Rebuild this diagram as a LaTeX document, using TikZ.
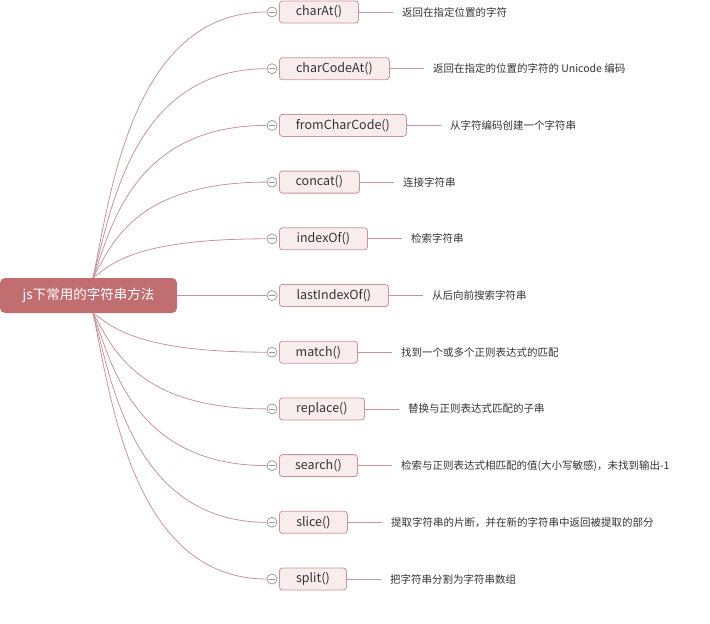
\documentclass[tikz,border=0pt]{standalone}
\usepackage{fontspec}
\setmainfont{Noto Sans CJK SC}
\usetikzlibrary{calc}
\definecolor{rootc}{RGB}{193,110,112}
\definecolor{boxfill}{RGB}{249,236,236}
\definecolor{boxline}{RGB}{200,150,152}
\definecolor{linkc}{RGB}{196,150,152}
\definecolor{txt}{RGB}{51,51,51}
\definecolor{circc}{RGB}{150,150,150}
\begin{document}
\begin{tikzpicture}[x=1pt,y=-1pt,
  rootbox/.style={fill=rootc, rounded corners=5pt, minimum width=177pt, minimum height=35pt, text=white, font=\fontsize{13.5}{16}\selectfont, inner sep=0},
  itembox/.style={draw=boxline, fill=boxfill, rounded corners=3pt, minimum height=22pt, inner sep=0, anchor=west, text=txt, font=\fontsize{12.5}{15}\selectfont, line width=0.8pt},
  collapse/.style={circle, draw=circc, fill=white, minimum size=10pt, inner sep=0, line width=0.7pt},
  desc/.style={anchor=west, inner sep=0, text=txt, font=\fontsize{10.5}{13}\selectfont},
  link/.style={draw=linkc, line width=0.8pt},
  minus/.style={draw=circc, line width=0.7pt}
]
\useasboundingbox (0,0) rectangle (710,624);
\node[rootbox] (root) at (88.5,295.5) {js下常用的字符串方法};
\foreach \i/\nm/\w/\d in {
  0/{charAt()}/79/{返回在指定位置的字符},
  1/{charCodeAt()}/110/{返回在指定的位置的字符的 Unicode 编码},
  2/{fromCharCode()}/127/{从字符编码创建一个字符串},
  3/{concat()}/80/{连接字符串},
  4/{indexOf()}/88/{检索字符串},
  5/{lastIndexOf()}/109/{从后向前搜索字符串},
  6/{match()}/78/{找到一个或多个正则表达式的匹配},
  7/{replace()}/85/{替换与正则表达式匹配的子串},
  8/{search()}/78/{检索与正则表达式相匹配的值(大小写敏感)，未找到输出-1},
  9/{slice()}/68/{提取字符串的片断，并在新的字符串中返回被提取的部分},
  10/{split()}/67/{把字符串分割为字符串数组}} {
  \pgfmathsetmacro\yy{12+56.7*\i}
  \node[itembox, minimum width=\w pt] (b\i) at (279,\yy) {\nm};
  \node[collapse] (c\i) at (272,\yy) {};
  \draw[minus] ([xshift=-3pt]c\i.center) -- ([xshift=3pt]c\i.center);
  \node[desc] (d\i) at ([xshift=43pt]b\i.east) {\d};
  \draw[link, shorten >=9pt] (b\i) -- (d\i);
  \ifnum\i<5
    \pgfmathsetmacro\pa{93+0.1*173}
    \pgfmathsetmacro\pb{277+0.3*(\yy-277)}
    \pgfmathsetmacro\pc{93+0.22*173}
    \draw[link] ([xshift=4.5pt]root.north) .. controls (\pa,\pb) and (\pc,\yy) .. (c\i.west);
  \else\ifnum\i>5
    \pgfmathsetmacro\pa{93+0.1*173}
    \pgfmathsetmacro\pb{312+0.3*(\yy-312)}
    \pgfmathsetmacro\pc{93+0.22*173}
    \draw[link] ([xshift=4.5pt]root.south) .. controls (\pa,\pb) and (\pc,\yy) .. (c\i.west);
  \else
    \draw[link] (root.east) -- (c\i.west);
  \fi\fi
}
\end{tikzpicture}
\end{document}
